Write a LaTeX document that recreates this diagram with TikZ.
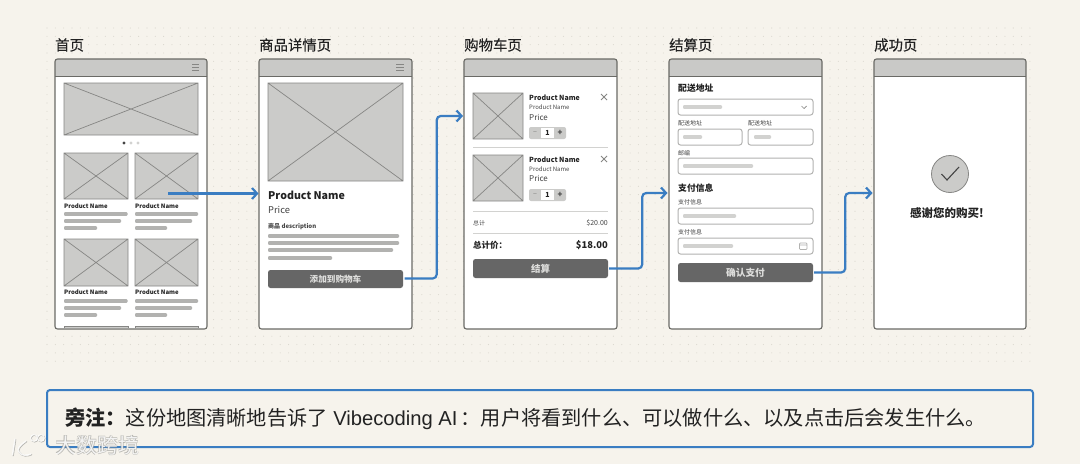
\documentclass[tikz,border=0pt]{standalone}
\usepackage{fontspec}
\setmainfont{Noto Sans CJK SC}
\newfontfamily\latfont{Liberation Sans}
\newfontfamily\medfont[FakeBold=0.3]{Noto Sans CJK SC}
\usetikzlibrary{arrows.meta,fit}
\definecolor{pagebg}{HTML}{F6F3EC}
\definecolor{griddot}{HTML}{DAD7CE}
\definecolor{edge}{HTML}{6A6A66}
\definecolor{hdr}{HTML}{C9C9C7}
\definecolor{phfill}{HTML}{CBCBC9}
\definecolor{phline}{HTML}{868684}
\definecolor{barc}{HTML}{B2B2B0}
\definecolor{barlight}{HTML}{D2D2D0}
\definecolor{btn}{HTML}{666666}
\definecolor{btntext}{HTML}{DDDDDB}
\definecolor{flowc}{HTML}{3A7DC2}
\definecolor{ink}{HTML}{222222}
\definecolor{softink}{HTML}{444444}
\definecolor{wmshadow}{HTML}{9A9A96}
\newcommand{\fs}[1]{\fontsize{#1}{#1}\selectfont}
\tikzset{
  x=1pt,y=-1pt,
  screenbox/.style={draw=edge,line width=1.1pt,rounded corners=2.5pt,inner sep=0pt},
  phstyle/.style={fill=phfill,draw=phline,line width=.7pt},
  barstyle/.style={fill=barc,rounded corners=1pt},
  barl/.style={fill=barlight,rounded corners=1pt},
  txt/.style={anchor=west,inner sep=0pt,text=ink},
  txtr/.style={anchor=east,inner sep=0pt,text=ink},
  pagetitle/.style={txt,font=\fs{14.4}\medfont},
  pname/.style={txt,font=\fs{6}\bfseries},
  smalltxt/.style={txt,font=\fs{6},text=softink},
  btnbox/.style={fill=btn,rounded corners=2.5pt,inner sep=0pt},
  btnlabel/.style={inner sep=0pt,text=btntext,font=\bfseries},
  fieldbox/.style={draw=barc,fill=white,line width=1pt,rounded corners=2.5pt},
  flow/.style={draw=flowc,line width=2.2pt,rounded corners=4pt,-{Straight Barb[length=5pt,width=11pt,line width=2.2pt]}},
  wmark/.style={white,opacity=.85},
  wshadow/.style={wmshadow,opacity=.7}
}
\newcommand{\shot}[4]{% name x1 x2 title
  \fill[white,rounded corners=2.5pt] (#2,59) rectangle (#3,329);
  \fill[hdr,rounded corners=2.5pt] (#2,59) rectangle (#3,70);
  \fill[hdr] (#2,65) rectangle (#3,76);
  \draw[edge,line width=.9pt] (#2,76) -- (#3,76);
  \node[screenbox,fit={(#2,59)(#3,329)}] (#1) {};
  \node[pagetitle] (#1t) at (#2,45) {#4};
}
\newcommand{\burger}[2]{% x1 x2
  \draw[phline,line width=.9pt] (#1,64) -- (#2,64) (#1,67) -- (#2,67) (#1,70) -- (#2,70);
}
\newcommand{\phbox}[4]{\draw[phstyle] (#1,#2) rectangle (#3,#4) (#1,#2) -- (#3,#4) (#1,#4) -- (#3,#2);}
\newcommand{\gbar}[3]{\fill[barstyle] (#1,#3-1.9) rectangle (#2,#3+1.9);}
\newcommand{\pbar}[3]{\fill[barl] (#1,#3-1.9) rectangle (#2,#3+1.9);}
\newcommand{\qtybox}[2]{% y name
  \fill[phfill,rounded corners=2pt] (529,#1) rectangle (566,#1+12);
  \fill[white] (541,#1+.8) rectangle (554,#1+11.2);
  \node[inner sep=0pt,font=\fs{7},text=phline] (#2m) at (535,#1+6) {−};
  \node[inner sep=0pt,font=\fs{7}\bfseries,text=ink] (#2n) at (547.5,#1+6) {1};
  \node[inner sep=0pt,font=\fs{8}\bfseries,text=softink] (#2p) at (560,#1+6) {+};
}
\newcommand{\closex}[2]{\draw[phline,line width=.8pt] (#1-3,#2-3) -- (#1+3,#2+3) (#1-3,#2+3) -- (#1+3,#2-3);}
\newcommand{\wmlogo}[1]{%
  \draw[#1,line width=1.4pt,line cap=round] (15,439) -- (12.5,455);
  \draw[#1,line width=1.4pt,line cap=round] (26,441) .. controls (19,446) and (17,449) .. (19,452) .. controls (22,456) and (27,456) .. (31,454);
  \draw[#1,line width=1pt] (34,438) circle (3.4) (41,438) circle (3.4);
}
\begin{document}
\begin{tikzpicture}
\useasboundingbox (0,0) rectangle (1080,464);
\fill[pagebg] (0,0) rectangle (1080,464);
\foreach \j in {0,...,40}{\draw[griddot,line width=1.1pt,line cap=round,dash pattern=on 0pt off 8.33pt] (47,28+8.33*\j) -- (1036,28+8.33*\j);}

% ---------- screens
\shot{s1}{55}{207}{首页}
\shot{s2}{259}{412}{商品详情页}
\shot{s3}{464}{617}{购物车页}
\shot{s4}{669}{822}{结算页}
\shot{s5}{874}{1026}{成功页}
\burger{192}{199}
\burger{396}{404}

% ---------- home
\phbox{64}{83}{198}{135}
\fill[softink] (124,143) circle (1.7);
\fill[barlight] (131,143) circle (1.7) (138,143) circle (1.7);
\phbox{64}{153}{128}{199}
\phbox{135}{153}{198}{199}
\node[pname] (h1) at (64,206) {Product Name};
\node[pname] (h2) at (135,206) {Product Name};
\gbar{64}{127.5}{214}\gbar{64}{121}{221}\gbar{64}{97}{228}
\gbar{135}{198}{214}\gbar{135}{192}{221}\gbar{135}{167}{228}
\phbox{64}{239}{128}{286}
\phbox{135}{239}{198}{286}
\node[pname] (h3) at (64,292) {Product Name};
\node[pname] (h4) at (135,292) {Product Name};
\gbar{64}{127.5}{301}\gbar{64}{121}{308}\gbar{64}{97}{315}
\gbar{135}{198}{301}\gbar{135}{192}{308}\gbar{135}{167}{315}
\draw[phstyle] (64,328.4) -- (64,326) -- (128,326) -- (128,328.4);
\draw[phstyle] (135,328.4) -- (135,326) -- (198,326) -- (198,328.4);
\coordinate (c1) at (168,193.5);

% ---------- detail
\phbox{268}{83}{403}{181}
\node[txt,font=\fs{10.6}\bfseries] (d1) at (268,195) {Product Name};
\node[txt,font=\fs{9.3},text=softink] (d2) at (268,210) {Price};
\node[txt,font=\fs{6}\bfseries,text=softink] (d3) at (268,227) {商品 description};
\gbar{268}{399}{236}\gbar{268}{399}{243}\gbar{268}{393}{250}\gbar{268}{332}{258}
\node[btnbox,fit={(268,270)(403,288)}] (b2) {};
\node[btnlabel,font=\fs{8.6}] (b2t) at (b2.center) {\bfseries 添加到购物车};

% ---------- cart
\phbox{473}{93}{523}{139}
\node[txt,font=\fs{7}\bfseries] (k1) at (529,97.5) {Product Name};
\node[txt,font=\fs{6},text=softink] (k2) at (529,107) {Product Name};
\node[txt,font=\fs{8},text=softink] (k3) at (529,117) {Price};
\qtybox{127}{qa}
\closex{604}{97}
\draw[barlight,line width=1pt] (473,147) -- (608,147);
\phbox{473}{155}{523}{201}
\node[txt,font=\fs{7}\bfseries] (k4) at (529,159.5) {Product Name};
\node[txt,font=\fs{6},text=softink] (k5) at (529,169) {Product Name};
\node[txt,font=\fs{8},text=softink] (k6) at (529,178.5) {Price};
\qtybox{189}{qb}
\closex{604}{159}
\draw[barlight,line width=.8pt] (473,211) -- (608,211);
\node[smalltxt] (k7) at (473,223) {总计};
\node[txtr,font=\fs{7},text=softink] (k8) at (608,223) {\$20.00};
\draw[barlight,line width=.8pt] (473,233) -- (608,233);
\node[txt,font=\fs{8.5}\bfseries] (k9) at (473,245) {总计价：};
\node[txtr,font=\fs{9.4}\bfseries] (k10) at (608,245) {\$18.00};
\node[btnbox,fit={(473,259)(608,278)}] (b3) {};
\node[btnlabel,font=\fs{9.5}] (b3t) at (b3.center) {\bfseries 结算};

% ---------- checkout
\node[txt,font=\fs{8.8}\bfseries] (o1) at (678,88) {配送地址};
\draw[fieldbox] (678,99) rectangle (813,115);
\pbar{683}{722}{107}
\draw[phline,line width=.7pt] (801.5,106) -- (804,108.5) -- (806.5,106);
\node[smalltxt] (o2) at (678,123) {配送地址};
\node[smalltxt] (o3) at (748,123) {配送地址};
\draw[fieldbox] (678,129) rectangle (742,145);
\draw[fieldbox] (748,129) rectangle (813,145);
\pbar{683}{702}{137}\pbar{754}{771}{137}
\node[smalltxt] (o4) at (678,153) {邮编};
\draw[fieldbox] (678,158) rectangle (813,174);
\pbar{683}{753}{166}
\node[txt,font=\fs{8.8}\bfseries] (o5) at (678,188) {支付信息};
\node[smalltxt] (o6) at (678,202) {支付信息};
\draw[fieldbox] (678,208) rectangle (813,224);
\pbar{683}{736}{216}
\node[smalltxt] (o7) at (678,232) {支付信息};
\draw[fieldbox] (678,238) rectangle (813,254);
\pbar{683}{733}{246}
\draw[barc,line width=.7pt,rounded corners=.8pt] (799.5,243) rectangle (807,249.5) (799.5,245) -- (807,245);
\node[btnbox,fit={(678,263)(813,282)}] (b4) {};
\node[btnlabel,font=\fs{9.7}] (b4t) at (b4.center) {\bfseries 确认支付};

% ---------- success
\node[circle,draw=phline,fill=phfill,line width=.8pt,minimum size=37pt,inner sep=0pt] (ok) at (950,174) {};
\draw[softink,line width=1.1pt] (941.5,174) -- (947,180) -- (959,167);
\node[inner sep=0pt,text=ink,font=\fs{11.5}\bfseries] (thanks) at (947,213) {感谢您的购买!};

% ---------- flow
\coordinate (i2) at (258.5,193.5);
\coordinate (i3) at (463,116);
\coordinate (i4) at (667.5,193);
\coordinate (i5) at (872.5,193);
\draw[flow] (c1) -- (i2);
\draw[flow] (b2.east) ++(1.5,-.5) -- ++(32,0) |- (i3);
\draw[flow] (b3.east) ++(1,0) -- ++(33,0) |- (i4);
\draw[flow] (b4.east) ++(1,0) -- ++(31,0) |- (i5);

% ---------- note
\node[fit={(47,390)(1033,447)},draw=flowc,line width=2pt,rounded corners=3pt,inner sep=0pt] (note) {};
\node[txt,font=\fs{20.2}] (notet) at (65,419) {\textbf{旁注：}这份地图清晰地告诉了\hspace{1pt} {\latfont Vibecoding AI}\hspace{3pt}：用户将看到什么、可以做什么、以及点击后会发生什么。};

% ---------- watermark
\node[txt,wshadow,font=\fs{21}\bfseries,text=wmshadow] (markshadow) at (55.6,445.6) {大数跨境};
\node[txt,wmark,font=\fs{21},text=white] (mark) at (55,445) {大数跨境};
\wmlogo{wshadow,shift={(.6,.6)}}
\wmlogo{wmark}
\end{tikzpicture}
\end{document}
